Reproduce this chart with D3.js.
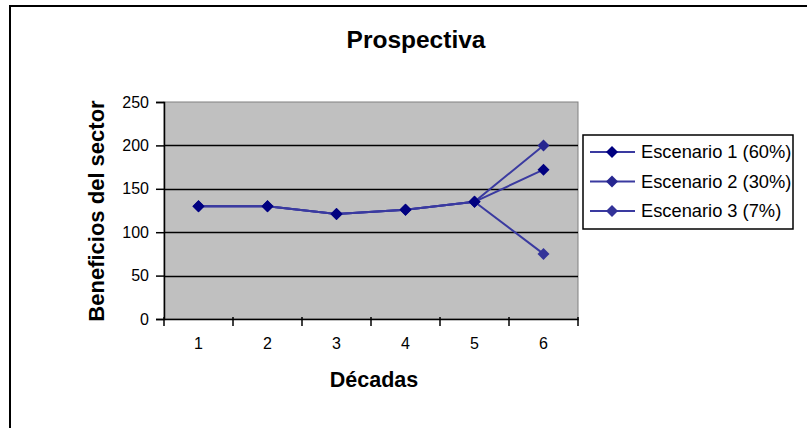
<!DOCTYPE html>
<html><head><meta charset="utf-8">
<script src="https://cdn.jsdelivr.net/npm/d3@7"></script>
<style>body{margin:0;background:#fff}svg{display:block}text{font-family:Arial,"Liberation Sans",sans-serif}</style>
</head><body><svg id="c" width="807" height="428"></svg>
<script>
const categories = ["1","2","3","4","5","6"];
const seriesNames = ["Escenario 1 (60%)","Escenario 2 (30%)","Escenario 3 (7%)"];
const escenario1 = [130,130,121,126,135,172];
const escenario2 = [130,130,121,126,135,200];
const escenario3 = [130,130,121,126,135,75];
const yTicks = [0,50,100,150,200,250];
const title = "Prospectiva";
const xTitle = "Décadas";
const yTitle = "Beneficios del sector";

const series = [
  {name: seriesNames[0], values: escenario1, marker: "#000080"},
  {name: seriesNames[1], values: escenario2, marker: "#262690"},
  {name: seriesNames[2], values: escenario3, marker: "#333399"}
];
const lineColor = "#3a3aa0";

const svg = d3.select("#c");
const L = 164, R = 578, T = 102, B = 319;

// chart area border
svg.append("rect").attr("x",10).attr("y",6).attr("width",820).attr("height",440)
  .attr("fill","#fff").attr("stroke","#000").attr("stroke-width",2);

const x = d3.scaleBand().domain(categories).range([L,R]);
const y = d3.scaleLinear().domain([0,250]).range([B,T]);

svg.append("rect").attr("x",L).attr("y",T).attr("width",R-L).attr("height",B-T)
  .attr("fill","#c0c0c0").attr("stroke","#808080").attr("stroke-width",1);

// gridlines
svg.append("g").selectAll("line").data(yTicks.filter(d=>d>0 && d<250)).join("line")
  .attr("x1",L).attr("x2",R).attr("y1",d=>Math.round(y(d))+0.5).attr("y2",d=>Math.round(y(d))+0.5)
  .attr("stroke","#000").attr("stroke-width",1.5);

// y axis
const yAxis = svg.append("g").attr("transform",`translate(${L},0)`)
  .call(d3.axisLeft(y).tickValues(yTicks).tickSize(8).tickPadding(7));
yAxis.select(".domain").attr("stroke","#000").attr("stroke-width",1.5);
yAxis.selectAll(".tick line").attr("stroke","#000").attr("stroke-width",1.5);
yAxis.selectAll("text").attr("font-size",16).attr("fill","#000");

// x axis
const xAxis = svg.append("g").attr("transform",`translate(0,${B})`)
  .call(d3.axisBottom(x).tickSize(0).tickPadding(19));
xAxis.select(".domain").attr("stroke","#000").attr("stroke-width",1.5);
xAxis.selectAll("text").attr("font-size",16).attr("fill","#000");
svg.append("g").selectAll("line").data(d3.range(categories.length+1)).join("line")
  .attr("x1",i=>L+i*x.step()).attr("x2",i=>L+i*x.step()).attr("y1",B-2).attr("y2",B+7)
  .attr("stroke","#000").attr("stroke-width",1.5);

const line = d3.line().x((d,i)=>x(categories[i])+x.bandwidth()/2).y(d=>y(d));
const diamond = d3.symbol().type(d3.symbolSquare).size(72);

[...series].reverse().forEach(s=>{
  svg.append("path").attr("d",line(s.values)).attr("fill","none").attr("stroke",lineColor).attr("stroke-width",2);
});
[...series].reverse().forEach(s=>{
  svg.append("g").selectAll("path").data(s.values).join("path")
    .attr("d",diamond)
    .attr("transform",(d,i)=>`translate(${x(categories[i])+x.bandwidth()/2},${y(d)}) rotate(45)`)
    .attr("fill",s.marker);
});

// titles
svg.append("text").attr("x",416).attr("y",48).attr("text-anchor","middle")
  .attr("font-size",24.5).attr("font-weight","bold").text(title);
svg.append("text").attr("x",374).attr("y",387).attr("text-anchor","middle")
  .attr("font-size",21.5).attr("font-weight","bold").text(xTitle);
svg.append("text").attr("transform","translate(104,211) rotate(-90)").attr("text-anchor","middle")
  .attr("font-size",22).attr("font-weight","bold").text(yTitle);

// legend
const lg = svg.append("g");
lg.append("rect").attr("x",583).attr("y",135).attr("width",210).attr("height",94)
  .attr("fill","#fff").attr("stroke","#000").attr("stroke-width",1.5);
series.forEach((s,i)=>{
  const cy = 152 + i*29.5;
  lg.append("line").attr("x1",590).attr("x2",635).attr("y1",cy).attr("y2",cy).attr("stroke",lineColor).attr("stroke-width",2);
  lg.append("path").attr("d",diamond).attr("transform",`translate(612,${cy}) rotate(45)`).attr("fill",s.marker);
  lg.append("text").attr("x",641).attr("y",cy+6).attr("font-size",18.3).text(s.name);
});
</script></body></html>
